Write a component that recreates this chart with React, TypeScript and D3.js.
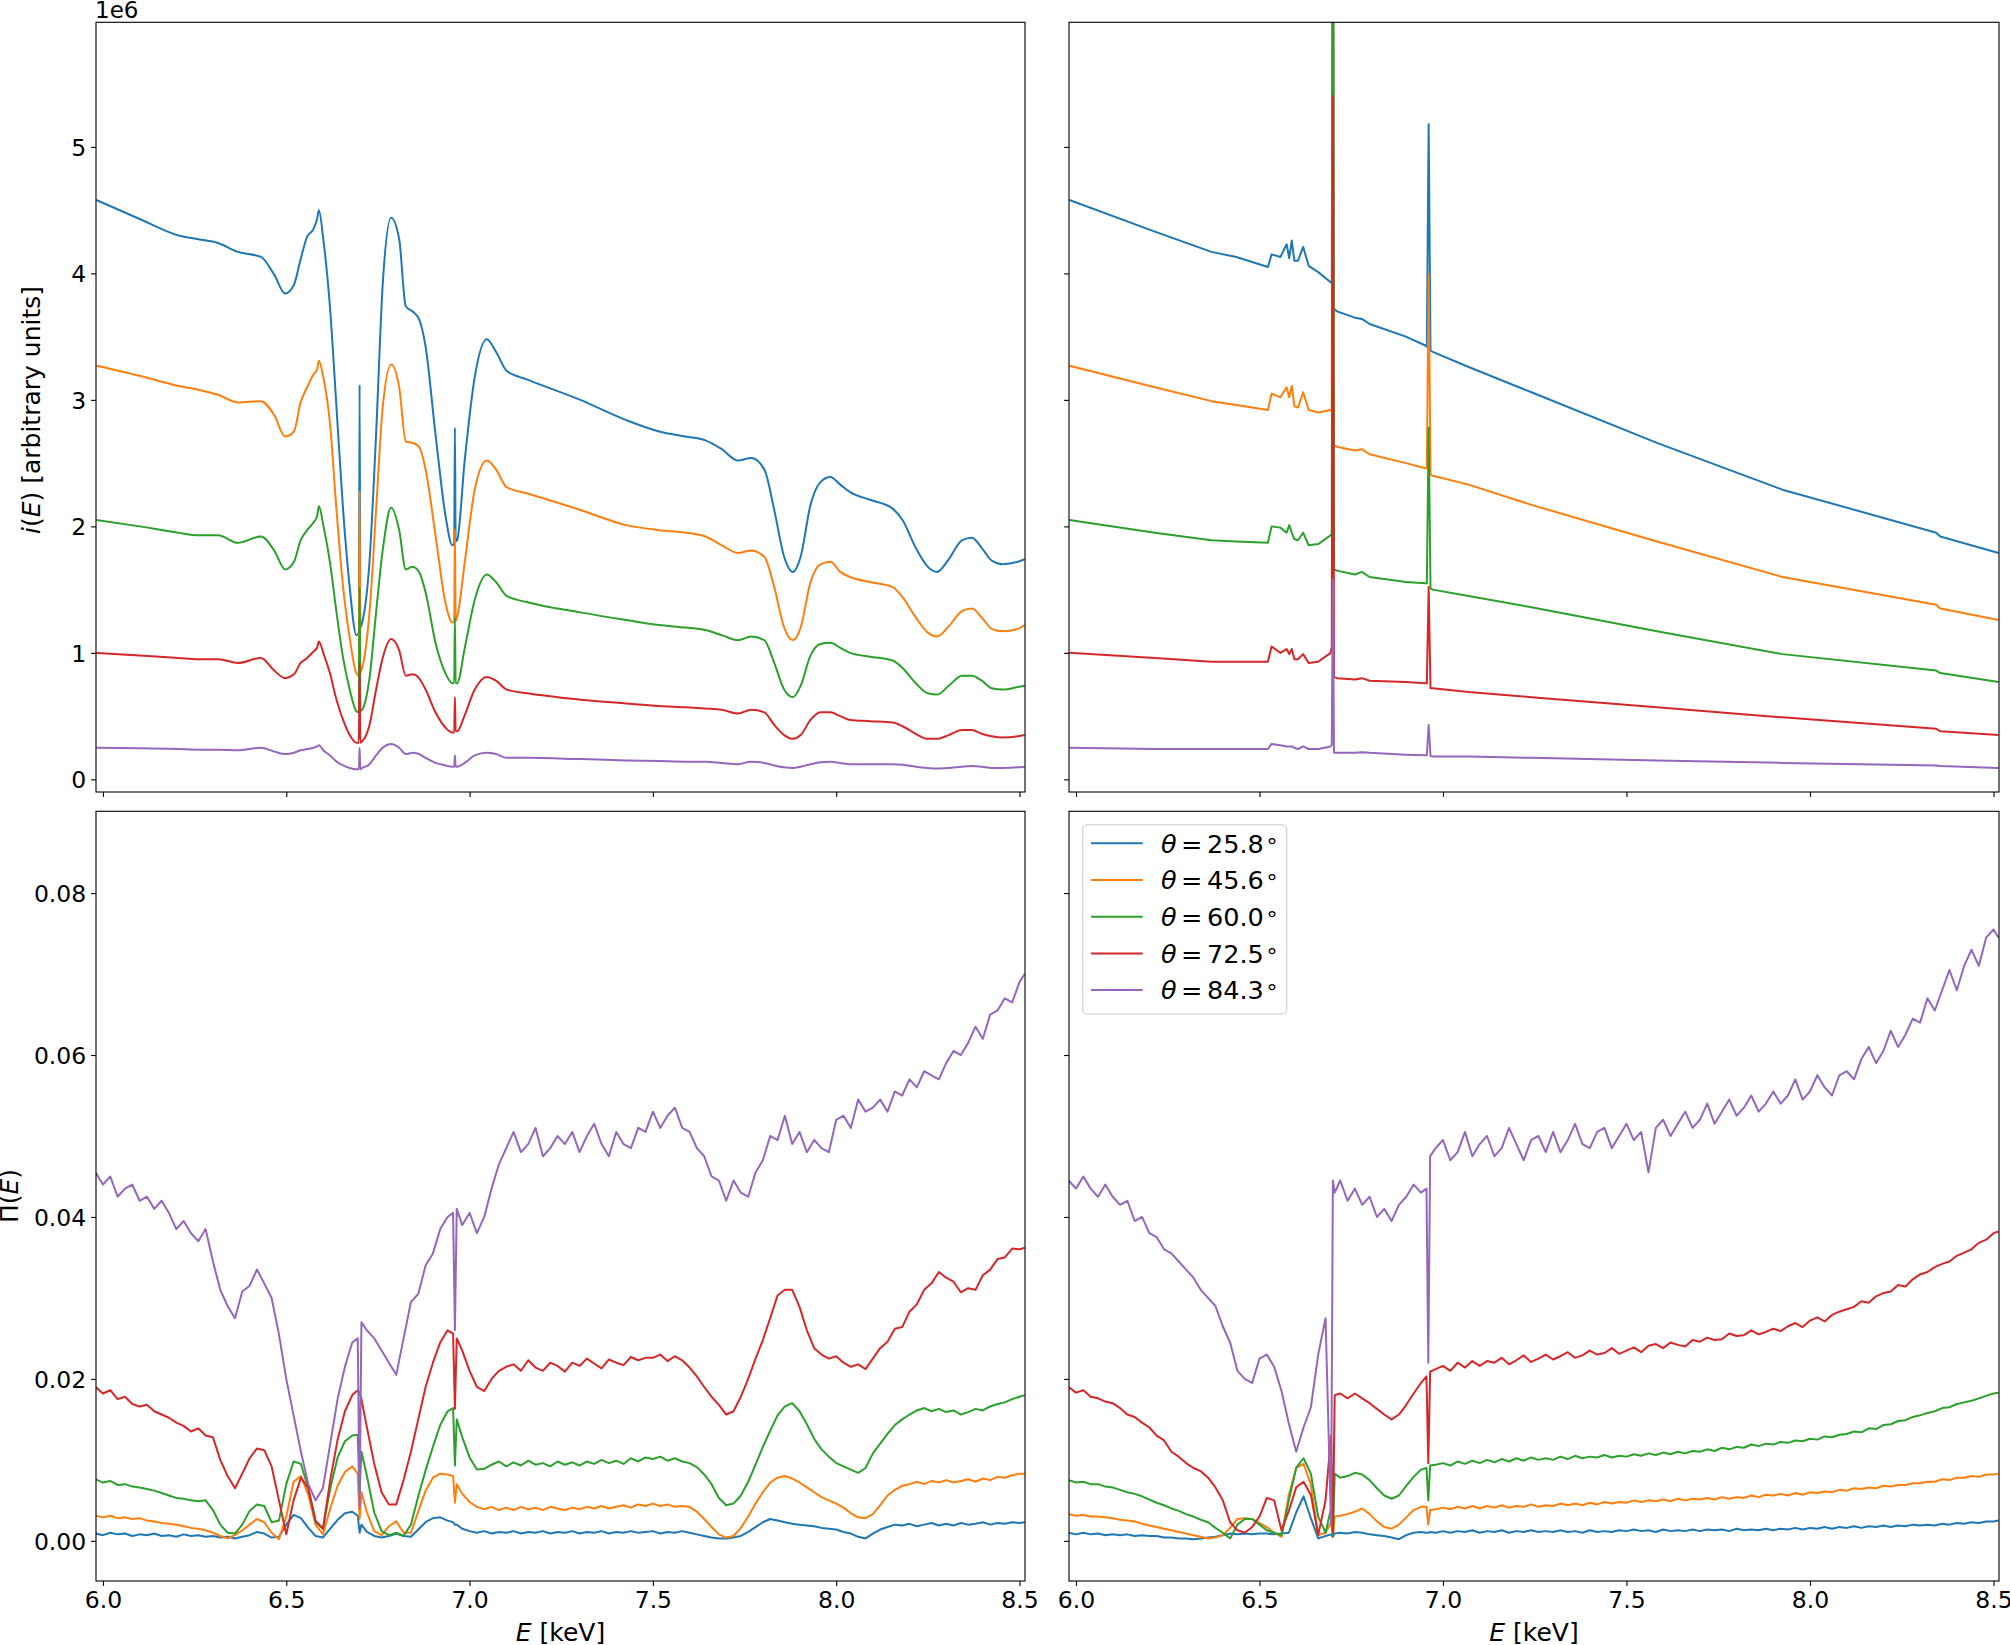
import React, { useEffect, useRef } from 'react';
import * as d3 from 'd3';

const COLORS = ['#1f77b4', '#ff7f0e', '#2ca02c', '#d62728', '#9467bd'];
const angles = ['25.8', '45.6', '60.0', '72.5', '84.3'];

const xTicks = [6.0, 6.5, 7.0, 7.5, 8.0, 8.5];
const iTicks = [0, 1, 2, 3, 4, 5];
const piTicks = [0, 0.02, 0.04, 0.06, 0.08];

// ---- top left: i(E), units of 1e6 ----
const energyTL = [
  5.982, 6.10, 6.206, 6.26, 6.314, 6.368, 6.431, 6.467, 6.497, 6.521,
  6.539, 6.557, 6.574, 6.584, 6.589, 6.601, 6.619, 6.637, 6.655, 6.673,
  6.691, 6.698, 6.700, 6.702, 6.707, 6.727, 6.745, 6.763, 6.786, 6.808,
  6.826, 6.844, 6.862, 6.880, 6.907, 6.934, 6.953, 6.958, 6.960, 6.962,
  6.966, 6.987, 7.014, 7.047, 7.072, 7.101, 7.158, 7.302, 7.427, 7.517,
  7.589, 7.643, 7.688, 7.732, 7.768, 7.804, 7.831, 7.858, 7.882, 7.903,
  7.930, 7.957, 7.984, 8.011, 8.038, 8.092, 8.154, 8.181, 8.217, 8.250,
  8.275, 8.307, 8.343, 8.370, 8.397, 8.424, 8.454, 8.496, 8.514,
];
const iTL_258 = [
  4.58, 4.43, 4.30, 4.27, 4.24, 4.17, 4.13, 3.99, 3.84, 3.91,
  4.11, 4.29, 4.35, 4.43, 4.50, 4.27, 3.74, 2.94, 2.13, 1.52,
  1.14, 1.16, 3.12, 1.20, 1.24, 1.72, 2.73, 3.91, 4.44, 4.27,
  3.74, 3.70, 3.64, 3.42, 2.73, 2.09, 1.85, 1.87, 2.78, 1.88,
  1.89, 2.53, 3.18, 3.48, 3.38, 3.23, 3.16, 3.00, 2.84, 2.75,
  2.71, 2.68, 2.61, 2.52, 2.54, 2.45, 2.13, 1.76, 1.64, 1.76,
  2.17, 2.35, 2.39, 2.33, 2.27, 2.21, 2.14, 2.05, 1.83, 1.68,
  1.64, 1.74, 1.89, 1.91, 1.83, 1.73, 1.70, 1.72, 1.74,
];
const iTL_456 = [
  3.27, 3.19, 3.11, 3.08, 3.04, 2.98, 2.99, 2.88, 2.71, 2.75,
  2.98, 3.10, 3.20, 3.24, 3.31, 3.18, 2.82, 2.13, 1.52, 1.12,
  0.84, 0.82, 2.28, 0.84, 0.88, 1.32, 2.13, 2.94, 3.28, 3.10,
  2.67, 2.66, 2.63, 2.45, 1.93, 1.40, 1.24, 1.24, 1.98, 1.25,
  1.28, 1.72, 2.29, 2.52, 2.45, 2.31, 2.26, 2.13, 2.01, 1.97,
  1.95, 1.92, 1.85, 1.79, 1.81, 1.76, 1.52, 1.20, 1.10, 1.20,
  1.56, 1.70, 1.72, 1.64, 1.60, 1.56, 1.52, 1.44, 1.28, 1.16,
  1.13, 1.21, 1.33, 1.35, 1.28, 1.19, 1.17, 1.19, 1.22,
];
const iTL_600 = [
  2.05, 2.00, 1.95, 1.93, 1.93, 1.87, 1.92, 1.81, 1.66, 1.72,
  1.89, 1.97, 2.03, 2.08, 2.16, 2.01, 1.72, 1.32, 0.96, 0.71,
  0.54, 0.53, 1.52, 0.54, 0.55, 0.80, 1.32, 1.81, 2.15, 1.97,
  1.66, 1.68, 1.64, 1.48, 1.08, 0.84, 0.76, 0.76, 1.28, 0.76,
  0.76, 1.04, 1.42, 1.62, 1.56, 1.45, 1.40, 1.32, 1.26, 1.22,
  1.20, 1.18, 1.14, 1.10, 1.13, 1.10, 0.92, 0.71, 0.65, 0.74,
  0.98, 1.07, 1.08, 1.04, 1.00, 0.97, 0.94, 0.88, 0.76, 0.68,
  0.67, 0.74, 0.82, 0.82, 0.78, 0.72, 0.71, 0.73, 0.74,
];
const iTL_725 = [
  1.00, 0.98, 0.96, 0.95, 0.95, 0.92, 0.96, 0.86, 0.80, 0.83,
  0.92, 0.96, 1.01, 1.04, 1.09, 1.00, 0.84, 0.63, 0.47, 0.35,
  0.29, 0.29, 0.92, 0.29, 0.30, 0.43, 0.71, 0.96, 1.11, 1.02,
  0.82, 0.83, 0.80, 0.71, 0.53, 0.41, 0.37, 0.37, 0.65, 0.38,
  0.38, 0.51, 0.71, 0.81, 0.78, 0.71, 0.68, 0.63, 0.60, 0.58,
  0.57, 0.56, 0.55, 0.52, 0.55, 0.53, 0.43, 0.35, 0.32, 0.35,
  0.47, 0.53, 0.53, 0.50, 0.47, 0.46, 0.45, 0.42, 0.36, 0.32,
  0.32, 0.35, 0.39, 0.39, 0.36, 0.34, 0.33, 0.34, 0.35,
];
const iTL_843 = [
  0.25, 0.245, 0.24, 0.235, 0.235, 0.23, 0.25, 0.22, 0.20, 0.21,
  0.23, 0.24, 0.25, 0.26, 0.27, 0.23, 0.19, 0.14, 0.11, 0.09,
  0.08, 0.08, 0.25, 0.08, 0.09, 0.12, 0.19, 0.25, 0.28, 0.25,
  0.20, 0.21, 0.20, 0.17, 0.13, 0.11, 0.10, 0.10, 0.19, 0.10,
  0.10, 0.13, 0.19, 0.21, 0.20, 0.17, 0.17, 0.16, 0.15, 0.145,
  0.14, 0.14, 0.13, 0.12, 0.14, 0.13, 0.11, 0.095, 0.09, 0.10,
  0.12, 0.135, 0.14, 0.13, 0.12, 0.12, 0.12, 0.115, 0.10, 0.09,
  0.085, 0.09, 0.10, 0.105, 0.10, 0.09, 0.09, 0.095, 0.10,
];

// ---- top right: i(E), units of 1e6 (8.0 = spike running off the top) ----
const energyTR = [
  5.982, 6.215, 6.369, 6.437, 6.523, 6.533, 6.557, 6.574, 6.581, 6.588,
  6.595, 6.605, 6.619, 6.634, 6.66, 6.694, 6.697, 6.700, 6.703, 6.711,
  6.76, 6.779, 6.80, 6.899, 6.952, 6.956, 6.961, 6.966, 6.972, 7.07,
  7.241, 7.583, 7.925, 8.344, 8.355, 8.514,
];
const iTR_258 = [
  4.58, 4.33, 4.17, 4.13, 4.05, 4.15, 4.13, 4.23, 4.12, 4.26,
  4.10, 4.10, 4.21, 4.06, 4.01, 3.93, 3.92, 8.0, 3.72, 3.70,
  3.65, 3.64, 3.60, 3.50, 3.43, 3.42, 5.18, 3.39, 3.38, 3.26,
  3.06, 2.66, 2.29, 1.95, 1.92, 1.79,
];
const iTR_456 = [
  3.27, 3.10, 2.99, 2.96, 2.92, 3.05, 3.02, 3.10, 3.02, 3.11,
  2.95, 2.94, 3.06, 2.92, 2.90, 2.92, 2.92, 8.0, 2.64, 2.63,
  2.60, 2.61, 2.57, 2.50, 2.46, 2.46, 3.99, 2.41, 2.40, 2.33,
  2.17, 1.88, 1.60, 1.38, 1.35, 1.26,
];
const iTR_600 = [
  2.05, 1.95, 1.89, 1.88, 1.87, 2.00, 1.99, 1.95, 2.01, 1.95,
  1.90, 1.89, 1.95, 1.85, 1.86, 1.93, 1.94, 8.0, 1.66, 1.65,
  1.62, 1.64, 1.60, 1.56, 1.55, 1.55, 2.78, 1.51, 1.50, 1.45,
  1.36, 1.17, 0.99, 0.86, 0.84, 0.77,
];
const iTR_725 = [
  1.00, 0.96, 0.93, 0.93, 0.93, 1.05, 1.00, 1.03, 0.99, 1.03,
  0.95, 0.95, 0.99, 0.92, 0.93, 1.00, 1.05, 5.40, 0.81, 0.80,
  0.79, 0.80, 0.78, 0.77, 0.76, 0.76, 1.52, 0.72, 0.72, 0.69,
  0.65, 0.57, 0.49, 0.40, 0.38, 0.35,
];
const iTR_843 = [
  0.25, 0.24, 0.24, 0.24, 0.24, 0.28, 0.27, 0.26, 0.26, 0.26,
  0.25, 0.24, 0.26, 0.24, 0.24, 0.26, 0.27, 1.58, 0.21, 0.21,
  0.21, 0.215, 0.21, 0.195, 0.19, 0.19, 0.43, 0.185, 0.18, 0.18,
  0.17, 0.15, 0.13, 0.11, 0.105, 0.09,
];

// ---- bottom panels: Pi(E), units of 1e-3 ----
const energyPi = [
  5.98, 6.00, 6.02, 6.04, 6.06, 6.08, 6.10, 6.12, 6.14, 6.16,
  6.18, 6.20, 6.22, 6.24, 6.26, 6.28, 6.30, 6.32, 6.34, 6.36,
  6.38, 6.40, 6.42, 6.44, 6.46, 6.48, 6.50, 6.52, 6.54, 6.56,
  6.58, 6.60, 6.62, 6.64, 6.66, 6.68, 6.695, 6.70, 6.705, 6.72,
  6.74, 6.76, 6.78, 6.80, 6.82, 6.84, 6.86, 6.88, 6.90, 6.92,
  6.94, 6.955, 6.96, 6.965, 6.98, 7.00, 7.02, 7.04, 7.06, 7.08,
  7.10, 7.12, 7.14, 7.16, 7.18, 7.20, 7.22, 7.24, 7.26, 7.28,
  7.30, 7.32, 7.34, 7.36, 7.38, 7.40, 7.42, 7.44, 7.46, 7.48,
  7.50, 7.52, 7.54, 7.56, 7.58, 7.60, 7.62, 7.64, 7.66, 7.68,
  7.70, 7.72, 7.74, 7.76, 7.78, 7.80, 7.82, 7.84, 7.86, 7.88,
  7.90, 7.92, 7.94, 7.96, 7.98, 8.00, 8.02, 8.04, 8.06, 8.08,
  8.10, 8.12, 8.14, 8.16, 8.18, 8.20, 8.22, 8.24, 8.26, 8.28,
  8.30, 8.32, 8.34, 8.36, 8.38, 8.40, 8.42, 8.44, 8.46, 8.48,
  8.50, 8.514,
];

const piL_258 = [
  0.9, 0.7, 1.0, 0.8, 0.9, 0.6, 0.8, 0.7, 0.9, 0.6,
  0.7, 0.5, 0.8, 0.6, 0.7, 0.5, 0.6, 0.4, 0.5, 0.3,
  0.5, 0.7, 1.1, 0.9, 0.4, 0.5, 2.0, 3.2, 2.8, 1.6,
  0.6, 0.4, 1.5, 2.6, 3.4, 3.6, 3.1, 1.0, 2.0, 1.1,
  0.6, 0.4, 0.6, 0.9, 0.6, 0.5, 1.4, 2.3, 2.8, 2.9,
  2.5, 2.3, 2.0, 2.0, 1.5, 1.2, 1.0, 1.2, 0.9, 1.1,
  1.0, 1.2, 0.9, 1.1, 1.0, 1.2, 0.9, 1.1, 1.0, 1.2,
  0.9, 1.1, 1.0, 1.2, 0.9, 1.1, 1.0, 1.2, 1.0, 1.1,
  1.2, 0.9, 1.1, 1.0, 1.2, 1.0, 0.8, 0.6, 0.4, 0.3,
  0.3, 0.4, 0.6, 1.1, 1.7, 2.3, 2.7, 2.5, 2.3, 2.1,
  2.0, 1.9, 1.8, 1.6, 1.5, 1.4, 1.1, 0.9, 0.5, 0.3,
  0.9, 1.4, 1.7, 2.0, 1.9, 2.1, 1.8, 2.0, 2.2, 1.9,
  2.1, 1.9, 2.2, 2.0, 2.1, 2.3, 2.0, 2.2, 2.1, 2.3,
  2.2, 2.3,
];
const piL_456 = [
  3.1, 2.9, 3.1, 2.8, 2.9, 2.7, 2.8, 2.5, 2.4, 2.2,
  2.1, 2.0, 1.8, 1.6, 1.5, 1.3, 1.0, 0.6, 0.3, 0.7,
  1.3, 2.0, 2.7, 2.3, 1.0, 0.2, 3.0, 7.3, 8.0, 5.7,
  2.0, 0.8, 4.0, 6.8, 8.5, 9.2, 8.3, 2.7, 6.0, 3.5,
  1.2, 0.7, 1.8, 2.4, 1.0, 1.0, 3.6, 6.2, 7.8, 8.3,
  8.2, 8.0, 4.7, 7.0, 5.8, 4.8, 4.2, 3.9, 4.2, 3.8,
  4.1, 3.8, 4.2, 3.9, 4.1, 3.8, 4.2, 4.0, 3.8, 4.1,
  3.9, 4.2, 4.0, 4.3, 4.0, 4.2, 4.4, 4.1, 4.5, 4.3,
  4.6, 4.3, 4.5, 4.2, 4.3, 4.2, 3.6, 2.7, 1.7, 0.8,
  0.4, 0.6, 1.6, 3.0, 4.6, 6.0, 7.2, 7.8, 8.0, 7.7,
  7.2, 6.6, 6.0, 5.4, 5.0, 4.6, 4.1, 3.4, 2.9, 2.8,
  3.3, 4.4, 5.6, 6.3, 6.8, 7.0, 7.3, 7.0, 7.4, 7.2,
  7.5, 7.2, 7.4, 7.6, 7.3, 7.7, 7.5, 7.9, 7.8, 8.1,
  8.3, 8.3,
];
const piL_600 = [
  7.6, 7.2, 7.4, 6.9, 7.0, 6.7, 6.6, 6.4, 6.2, 5.9,
  5.6, 5.3, 5.2, 5.0, 4.9, 5.0, 3.8, 2.0, 1.0, 0.9,
  2.0, 3.7, 4.5, 4.3, 2.3, 2.5, 7.0, 9.8, 9.5, 6.5,
  2.3, 1.5, 6.5, 10.3, 12.3, 13.0, 13.1, 6.0, 11.0, 8.0,
  3.5, 1.2, 0.7, 1.0, 0.6, 2.0, 5.5, 8.7, 11.6, 14.3,
  16.0, 16.4, 9.3, 15.0, 12.8, 10.3, 8.8, 8.9, 9.4, 9.8,
  9.2, 9.7, 9.3, 9.9, 9.4, 9.6, 9.2, 9.8, 9.4, 9.7,
  9.3, 9.8, 9.5, 10.0, 9.6, 9.9, 9.5, 10.2, 9.8, 10.3,
  10.1, 10.4, 9.9, 10.2, 9.8, 9.6, 9.1, 8.2, 7.0, 5.3,
  4.4, 4.6, 5.6, 7.3, 9.4, 11.6, 13.6, 15.5, 16.6, 17.0,
  16.0, 14.4, 12.6, 11.3, 10.4, 9.6, 9.2, 8.8, 8.4, 9.0,
  10.8, 12.0, 13.2, 14.3, 15.0, 15.6, 16.1, 16.4, 16.0, 16.3,
  15.9, 16.1, 15.6, 15.9, 16.3, 16.1, 16.6, 16.9, 17.1, 17.5,
  17.8, 18.0,
];
const piL_725 = [
  19.0, 18.2, 18.6, 17.5, 17.8, 16.9, 16.6, 16.8, 16.0, 15.6,
  15.2, 14.6, 14.2, 13.5, 13.9, 13.0, 12.8, 10.0, 8.0, 6.5,
  8.3, 10.2, 11.4, 11.2, 9.2, 5.0, 0.8, 5.0, 7.8, 6.5,
  2.5, 1.5, 7.5, 12.5, 16.0, 18.0, 18.6, 18.3, 17.5, 14.0,
  9.5, 6.0, 4.5, 4.5, 7.5, 11.0, 15.0, 19.0, 22.0, 24.5,
  26.0, 25.6, 16.3, 25.0, 23.5, 21.0, 19.0, 18.5, 20.0, 21.0,
  21.5, 21.8, 21.0, 22.3, 21.4, 21.0, 22.0, 21.6, 20.9, 22.0,
  21.6, 22.5, 21.9, 21.3, 22.4, 22.0, 21.7, 22.7, 22.3, 22.6,
  22.6, 23.0, 22.2, 22.8, 22.3, 21.4, 20.3, 19.0, 17.8, 16.8,
  15.6, 16.0, 17.8, 20.0, 22.5, 24.8, 27.5, 30.3, 31.0, 31.0,
  28.9, 26.0, 23.8, 23.0, 22.5, 22.8, 22.0, 21.5, 21.8, 21.2,
  22.5, 23.8, 24.6, 26.2, 26.4, 28.3, 29.2, 31.0, 31.8, 33.2,
  32.5, 32.0, 30.7, 31.2, 31.0, 32.8, 33.5, 34.8, 35.0, 36.1,
  36.0, 36.2,
];
const piL_843 = [
  45.5, 44.0, 45.0, 42.5, 43.5, 44.0, 42.0, 42.5, 41.0, 42.0,
  40.5, 38.5, 39.5, 38.0, 37.0, 38.5, 34.5, 31.0, 29.0, 27.5,
  30.8, 31.5, 33.5, 31.8, 30.0, 25.5, 20.0, 15.5, 11.0, 7.0,
  5.0, 6.5, 12.0, 17.5, 21.5, 24.5, 25.0, 4.0, 27.0, 26.0,
  25.0, 23.5, 22.0, 20.5, 25.0, 29.5, 30.5, 34.0, 35.5, 38.5,
  40.0, 40.5, 26.0, 41.0, 39.0, 40.5, 38.0, 40.0, 43.5, 46.5,
  48.5, 50.5, 48.0, 49.0, 51.0, 47.5, 48.5, 50.0, 49.0, 50.5,
  48.0, 50.0, 51.5, 49.0, 47.5, 50.5, 49.0, 48.5, 51.0, 50.5,
  53.0, 51.0, 52.5, 53.5, 51.0, 50.5, 48.5, 47.5, 45.0, 44.5,
  42.0, 44.5, 43.0, 42.5, 45.5, 47.0, 50.0, 49.5, 52.5, 49.0,
  50.5, 48.0, 49.5, 48.5, 48.0, 52.0, 52.5, 51.0, 54.5, 53.0,
  53.5, 54.5, 53.0, 55.5, 55.0, 57.0, 56.0, 58.0, 57.5, 57.0,
  59.0, 60.5, 60.0, 61.5, 63.5, 62.0, 65.0, 65.5, 67.0, 66.5,
  69.0, 70.0,
];

const piR_258 = [
  1.0, 0.8, 1.0, 0.8, 0.9, 0.7, 0.8, 0.7, 0.8, 0.6,
  0.7, 0.6, 0.6, 0.4, 0.4, 0.3, 0.3, 0.2, 0.3, 0.4,
  0.5, 0.7, 0.9, 0.8, 0.9, 0.8, 0.9, 0.9, 0.8, 0.9,
  1.0, 3.5, 5.5, 2.8, 0.3, 0.6, 0.8, 0.5, 0.9, 1.0,
  0.9, 1.1, 1.0, 0.8, 0.7, 0.6, 0.4, 0.2, 0.7, 1.0,
  1.1, 1.0, 1.0, 1.1, 1.0, 1.2, 1.0, 1.2, 1.1, 1.3,
  1.0, 1.2, 1.1, 1.3, 1.0, 1.2, 1.1, 1.3, 1.1, 1.2,
  1.1, 1.3, 1.1, 1.2, 1.0, 1.3, 1.1, 1.2, 1.1, 1.3,
  1.2, 1.4, 1.2, 1.3, 1.1, 1.4, 1.2, 1.3, 1.2, 1.4,
  1.2, 1.4, 1.3, 1.4, 1.2, 1.5, 1.3, 1.4, 1.3, 1.5,
  1.3, 1.5, 1.4, 1.6, 1.4, 1.6, 1.5, 1.7, 1.5, 1.7,
  1.6, 1.8, 1.6, 1.8, 1.7, 1.9, 1.7, 1.9, 1.8, 2.0,
  1.9, 2.0, 1.9, 2.1, 2.0, 2.2, 2.1, 2.3, 2.2, 2.4,
  2.4, 2.5,
];
const piR_456 = [
  3.3, 3.1, 3.2, 3.0, 3.0, 2.9, 2.8, 2.6, 2.5, 2.4,
  2.1, 1.9, 1.7, 1.5, 1.3, 1.1, 0.9, 0.7, 0.5, 0.3,
  0.4, 0.7, 1.6, 2.7, 2.8, 2.7, 2.2, 1.7, 1.0, 0.5,
  5.7, 9.0, 9.5, 7.0, 0.7, 1.0, 2.3, 0.5, 3.0, 3.1,
  3.3, 3.6, 4.0, 3.3, 2.4, 1.7, 1.5, 2.0, 2.9, 3.8,
  4.2, 4.2, 2.0, 3.8, 3.9, 4.1, 3.9, 4.2, 4.0, 4.3,
  4.0, 4.3, 4.1, 4.4, 4.1, 4.3, 4.2, 4.5, 4.2, 4.4,
  4.3, 4.6, 4.4, 4.6, 4.4, 4.7, 4.5, 4.8, 4.6, 4.8,
  4.7, 5.0, 4.8, 5.0, 4.9, 5.1, 4.9, 5.2, 5.0, 5.2,
  5.1, 5.3, 5.1, 5.4, 5.2, 5.4, 5.3, 5.6, 5.4, 5.7,
  5.6, 5.8, 5.6, 5.9, 5.7, 6.0, 5.9, 6.1, 6.0, 6.3,
  6.2, 6.5, 6.4, 6.6, 6.5, 6.8, 6.7, 6.9, 6.9, 7.1,
  7.1, 7.3, 7.3, 7.6, 7.5, 7.8, 7.8, 8.0, 7.9, 8.2,
  8.2, 8.3,
];
const piR_600 = [
  7.5, 7.2, 7.3, 7.0, 7.0, 6.7, 6.6, 6.3, 6.0, 5.8,
  5.5, 5.1, 4.7, 4.4, 4.0, 3.7, 3.3, 3.0, 2.6, 2.3,
  1.6, 1.0, 0.3, 2.0, 2.7, 2.7, 2.0, 1.3, 1.0, 0.7,
  5.0, 9.0, 10.2, 8.3, 3.0, 1.0, 4.0, 0.5, 8.3, 7.8,
  8.0, 8.4, 8.2, 7.5, 6.5, 5.6, 5.2, 5.6, 6.8, 7.9,
  8.8, 9.0, 5.0, 9.3, 9.4, 9.6, 9.3, 9.8, 9.5, 9.9,
  9.6, 10.0, 9.7, 10.1, 9.8, 10.2, 9.9, 10.3, 10.0, 10.2,
  10.0, 10.4, 10.1, 10.5, 10.2, 10.4, 10.3, 10.6, 10.3, 10.5,
  10.4, 10.7, 10.5, 10.8, 10.6, 10.9, 10.7, 11.0, 10.8, 11.1,
  11.0, 11.3, 11.1, 11.5, 11.3, 11.6, 11.5, 11.9, 11.7, 12.0,
  11.9, 12.2, 12.1, 12.4, 12.3, 12.6, 12.5, 12.9, 12.8, 13.1,
  13.2, 13.5, 13.4, 13.9, 13.8, 14.3, 14.4, 14.8, 14.9, 15.3,
  15.5, 15.8, 16.0, 16.4, 16.5, 16.9, 17.1, 17.3, 17.6, 17.9,
  18.2, 18.3,
];
const piR_725 = [
  19.0, 18.3, 18.6, 17.8, 17.6, 17.2, 17.0, 16.4, 15.6, 15.3,
  14.6, 14.0, 13.0, 12.4, 11.0, 10.4, 9.6, 9.0, 8.6, 7.8,
  6.6, 5.0, 2.3, 1.3, 1.0, 1.7, 3.0, 5.3, 5.0, 1.3,
  3.7, 6.6, 7.3, 5.7, 0.7, 5.0, 13.0, 1.0, 18.0, 18.2,
  17.6, 18.2, 17.6, 17.0, 16.3, 15.6, 15.0, 15.6, 16.8, 18.2,
  19.5, 20.3, 9.6, 20.9, 21.2, 21.6, 21.0, 22.0, 21.4, 22.2,
  21.6, 22.2, 22.0, 22.6, 21.8, 22.3, 22.9, 22.1, 22.5, 23.0,
  22.4, 22.8, 23.3, 22.6, 22.9, 23.5, 23.0, 23.2, 23.8, 23.1,
  23.5, 23.9, 23.3, 24.1, 24.3, 23.8, 24.5, 24.2, 24.0, 24.8,
  24.6, 25.1, 24.8, 24.9, 25.6, 25.3, 25.4, 26.0, 25.5, 25.8,
  26.2, 25.9, 26.5, 26.9, 26.4, 27.2, 27.6, 27.1, 27.9, 28.3,
  28.6, 28.9, 29.6, 29.4, 30.2, 30.6, 30.8, 31.6, 31.4, 32.3,
  32.9, 33.2, 33.8, 34.2, 34.5, 35.2, 35.6, 36.0, 36.8, 37.2,
  38.0, 38.2,
];
const piR_843 = [
  44.5, 43.5, 45.0, 43.5, 42.5, 44.0, 42.5, 41.5, 42.0, 39.5,
  40.0, 38.0, 37.5, 36.0, 35.5, 34.5, 33.5, 32.5, 31.0, 30.0,
  29.0, 26.5, 24.5, 21.0, 20.0, 19.5, 22.5, 23.0, 21.5, 18.5,
  14.5, 11.0, 14.0, 16.5, 23.0, 27.5, 2.0, 44.5, 43.0, 44.5,
  42.0, 43.5, 41.5, 42.5, 40.0, 41.0, 39.5, 41.5, 42.5, 44.0,
  43.0, 43.5, 22.0, 47.5, 48.5, 49.5, 47.0, 48.0, 50.5, 47.5,
  49.0, 50.0, 47.5, 48.5, 51.0, 49.0, 47.0, 49.5, 50.0, 48.0,
  50.5, 48.0, 49.5, 51.5, 49.0, 48.5, 50.5, 51.0, 48.5, 50.0,
  51.5, 49.5, 50.5, 45.5, 51.0, 52.0, 50.0, 51.5, 53.0, 51.0,
  52.0, 54.0, 51.5, 53.0, 54.5, 52.5, 53.5, 55.0, 53.0, 54.0,
  55.5, 54.0, 55.0, 57.0, 54.5, 55.5, 57.5, 56.0, 55.0, 57.5,
  58.0, 57.0, 59.5, 61.0, 59.0, 60.5, 63.0, 61.0, 62.5, 64.5,
  64.0, 67.0, 65.5, 68.0, 70.5, 68.0, 71.0, 73.0, 71.0, 74.5,
  75.5, 74.5,
];

const FONT = '"DejaVu Sans", sans-serif';
const TICK_FS = 23.5;
const LABEL_FS = 25;
const LEGEND_FS = 25.5;

const App: React.FC = () => {
  const svgRef = useRef<SVGSVGElement>(null);

  useEffect(() => {
    if (!svgRef.current) return;
    const svg = d3.select(svgRef.current);
    svg.selectAll('*').remove();

    const eDomain: [number, number] = [5.981, 8.515];
    const panels = [
      { left: 96, top: 22.3, width: 929, height: 769.7, energy: energyTL,
        series: [iTL_258, iTL_456, iTL_600, iTL_725, iTL_843], unit: 1, smooth: true,
        yDomain: [-0.1, 5.985], yTicks: iTicks, fmt: d3.format('d'), yLab: true, xLab: false },
      { left: 1069, top: 22.3, width: 930, height: 769.7, energy: energyTR,
        series: [iTR_258, iTR_456, iTR_600, iTR_725, iTR_843], unit: 1, smooth: false,
        yDomain: [-0.1, 5.985], yTicks: iTicks, fmt: d3.format('d'), yLab: false, xLab: false },
      { left: 96, top: 811.3, width: 929, height: 769.7, energy: energyPi,
        series: [piL_258, piL_456, piL_600, piL_725, piL_843], unit: 1e-3, smooth: false,
        yDomain: [-0.00496, 0.0901], yTicks: piTicks, fmt: d3.format('.2f'), yLab: true, xLab: true },
      { left: 1069, top: 811.3, width: 930, height: 769.7, energy: energyPi,
        series: [piR_258, piR_456, piR_600, piR_725, piR_843], unit: 1e-3, smooth: false,
        yDomain: [-0.00496, 0.0901], yTicks: piTicks, fmt: d3.format('.2f'), yLab: false, xLab: true },
    ];

    const defs = svg.append('defs');

    panels.forEach((p, pi) => {
      const x = d3.scaleLinear().domain(eDomain).range([0, p.width]);
      const y = d3.scaleLinear().domain(p.yDomain).range([p.height, 0]);
      const g = svg.append('g').attr('transform', `translate(${p.left},${p.top})`);

      defs.append('clipPath').attr('id', `clip${pi}`)
        .append('rect').attr('width', p.width).attr('height', p.height);

      const plot = g.append('g').attr('clip-path', `url(#clip${pi})`);
      p.series.forEach((vals, si) => {
        const pts = p.energy.map((e, k) => [e, vals[k] * p.unit] as [number, number])
          .filter(d => Number.isFinite(d[1]));
        const line = d3.line<[number, number]>()
          .x(d => x(d[0]))
          .y(d => y(d[1]))
          .curve(p.smooth ? d3.curveMonotoneX : d3.curveLinear);
        plot.append('path')
          .datum(pts)
          .attr('fill', 'none')
          .attr('stroke', COLORS[si])
          .attr('stroke-width', 2)
          .attr('stroke-linejoin', 'round')
          .attr('d', line);
      });

      const xAxis = d3.axisBottom(x).tickValues(xTicks).tickSize(4.9).tickPadding(4.9).tickSizeOuter(0)
        .tickFormat(p.xLab ? (d => d3.format('.1f')(d as number)) : () => '');
      const xg = g.append('g').attr('transform', `translate(0,${p.height})`).call(xAxis);
      xg.select('.domain').remove();
      xg.attr('font-size', TICK_FS).attr('font-family', FONT);
      xg.selectAll('line').attr('stroke-width', 1.1);
      xg.selectAll('text').attr('dy', '0.75em').attr('fill', '#000');

      const yAxis = d3.axisLeft(y).tickValues(p.yTicks).tickSize(4.9).tickPadding(4.9).tickSizeOuter(0)
        .tickFormat(p.yLab ? (d => p.fmt(d as number)) : () => '');
      const yg = g.append('g').call(yAxis);
      yg.select('.domain').remove();
      yg.attr('font-size', TICK_FS).attr('font-family', FONT);
      yg.selectAll('line').attr('stroke-width', 1.1);
      yg.selectAll('text').attr('dy', '0.36em').attr('fill', '#000');

      g.append('rect')
        .attr('width', p.width).attr('height', p.height)
        .attr('fill', 'none').attr('stroke', '#000').attr('stroke-width', 1.1);

      if (p.xLab) {
        const t = g.append('text')
          .attr('x', p.width / 2).attr('y', 1641 - p.top)
          .attr('text-anchor', 'middle')
          .attr('font-family', FONT).attr('font-size', LABEL_FS);
        t.append('tspan').attr('font-style', 'italic').text('E');
        t.append('tspan').text(' [keV]');
      }
    });

    // y labels and offset text
    const yl1 = svg.append('text')
      .attr('transform', 'translate(39.6,410) rotate(-90)')
      .attr('text-anchor', 'middle').attr('font-family', FONT).attr('font-size', LABEL_FS);
    yl1.append('tspan').attr('font-style', 'italic').text('i');
    yl1.append('tspan').text('(');
    yl1.append('tspan').attr('font-style', 'italic').text('E');
    yl1.append('tspan').text(') [arbitrary units]');

    const yl2 = svg.append('text')
      .attr('transform', 'translate(18,1196) rotate(-90)')
      .attr('text-anchor', 'middle').attr('font-family', FONT).attr('font-size', LABEL_FS);
    yl2.append('tspan').text('Π(');
    yl2.append('tspan').attr('font-style', 'italic').text('E');
    yl2.append('tspan').text(')');

    svg.append('text')
      .attr('x', 95).attr('y', 18.3)
      .attr('font-family', FONT).attr('font-size', 23)
      .text('1e6');

    // legend in the lower right panel
    const lg = svg.append('g');
    lg.append('rect')
      .attr('x', 1082.7).attr('y', 824.7).attr('width', 204).attr('height', 189.3)
      .attr('rx', 4.5).attr('ry', 4.5)
      .attr('fill', '#fff').attr('fill-opacity', 0.8)
      .attr('stroke', '#cccccc').attr('stroke-width', 1.1);
    angles.forEach((a, i) => {
      const ly = 843.3 + i * 36.7;
      lg.append('line')
        .attr('x1', 1091).attr('x2', 1142.7).attr('y1', ly).attr('y2', ly)
        .attr('stroke', COLORS[i]).attr('stroke-width', 2);
      const t = lg.append('text').attr('y', ly + 9.2)
        .attr('font-family', FONT).attr('font-size', LEGEND_FS);
      t.append('tspan').attr('x', 1161).attr('font-style', 'italic').text('θ');
      t.append('tspan').attr('x', 1181).text('=');
      t.append('tspan').attr('x', 1207).text(a);
      t.append('tspan').attr('x', 1266.5).attr('dy', 1).attr('font-size', 22).text('°');
    });
  }, []);

  return (
    <svg
      ref={svgRef}
      width={2010}
      height={1645}
      style={{ position: 'absolute', left: 0, top: 0, background: '#fff' }}
    />
  );
};

export default App;
